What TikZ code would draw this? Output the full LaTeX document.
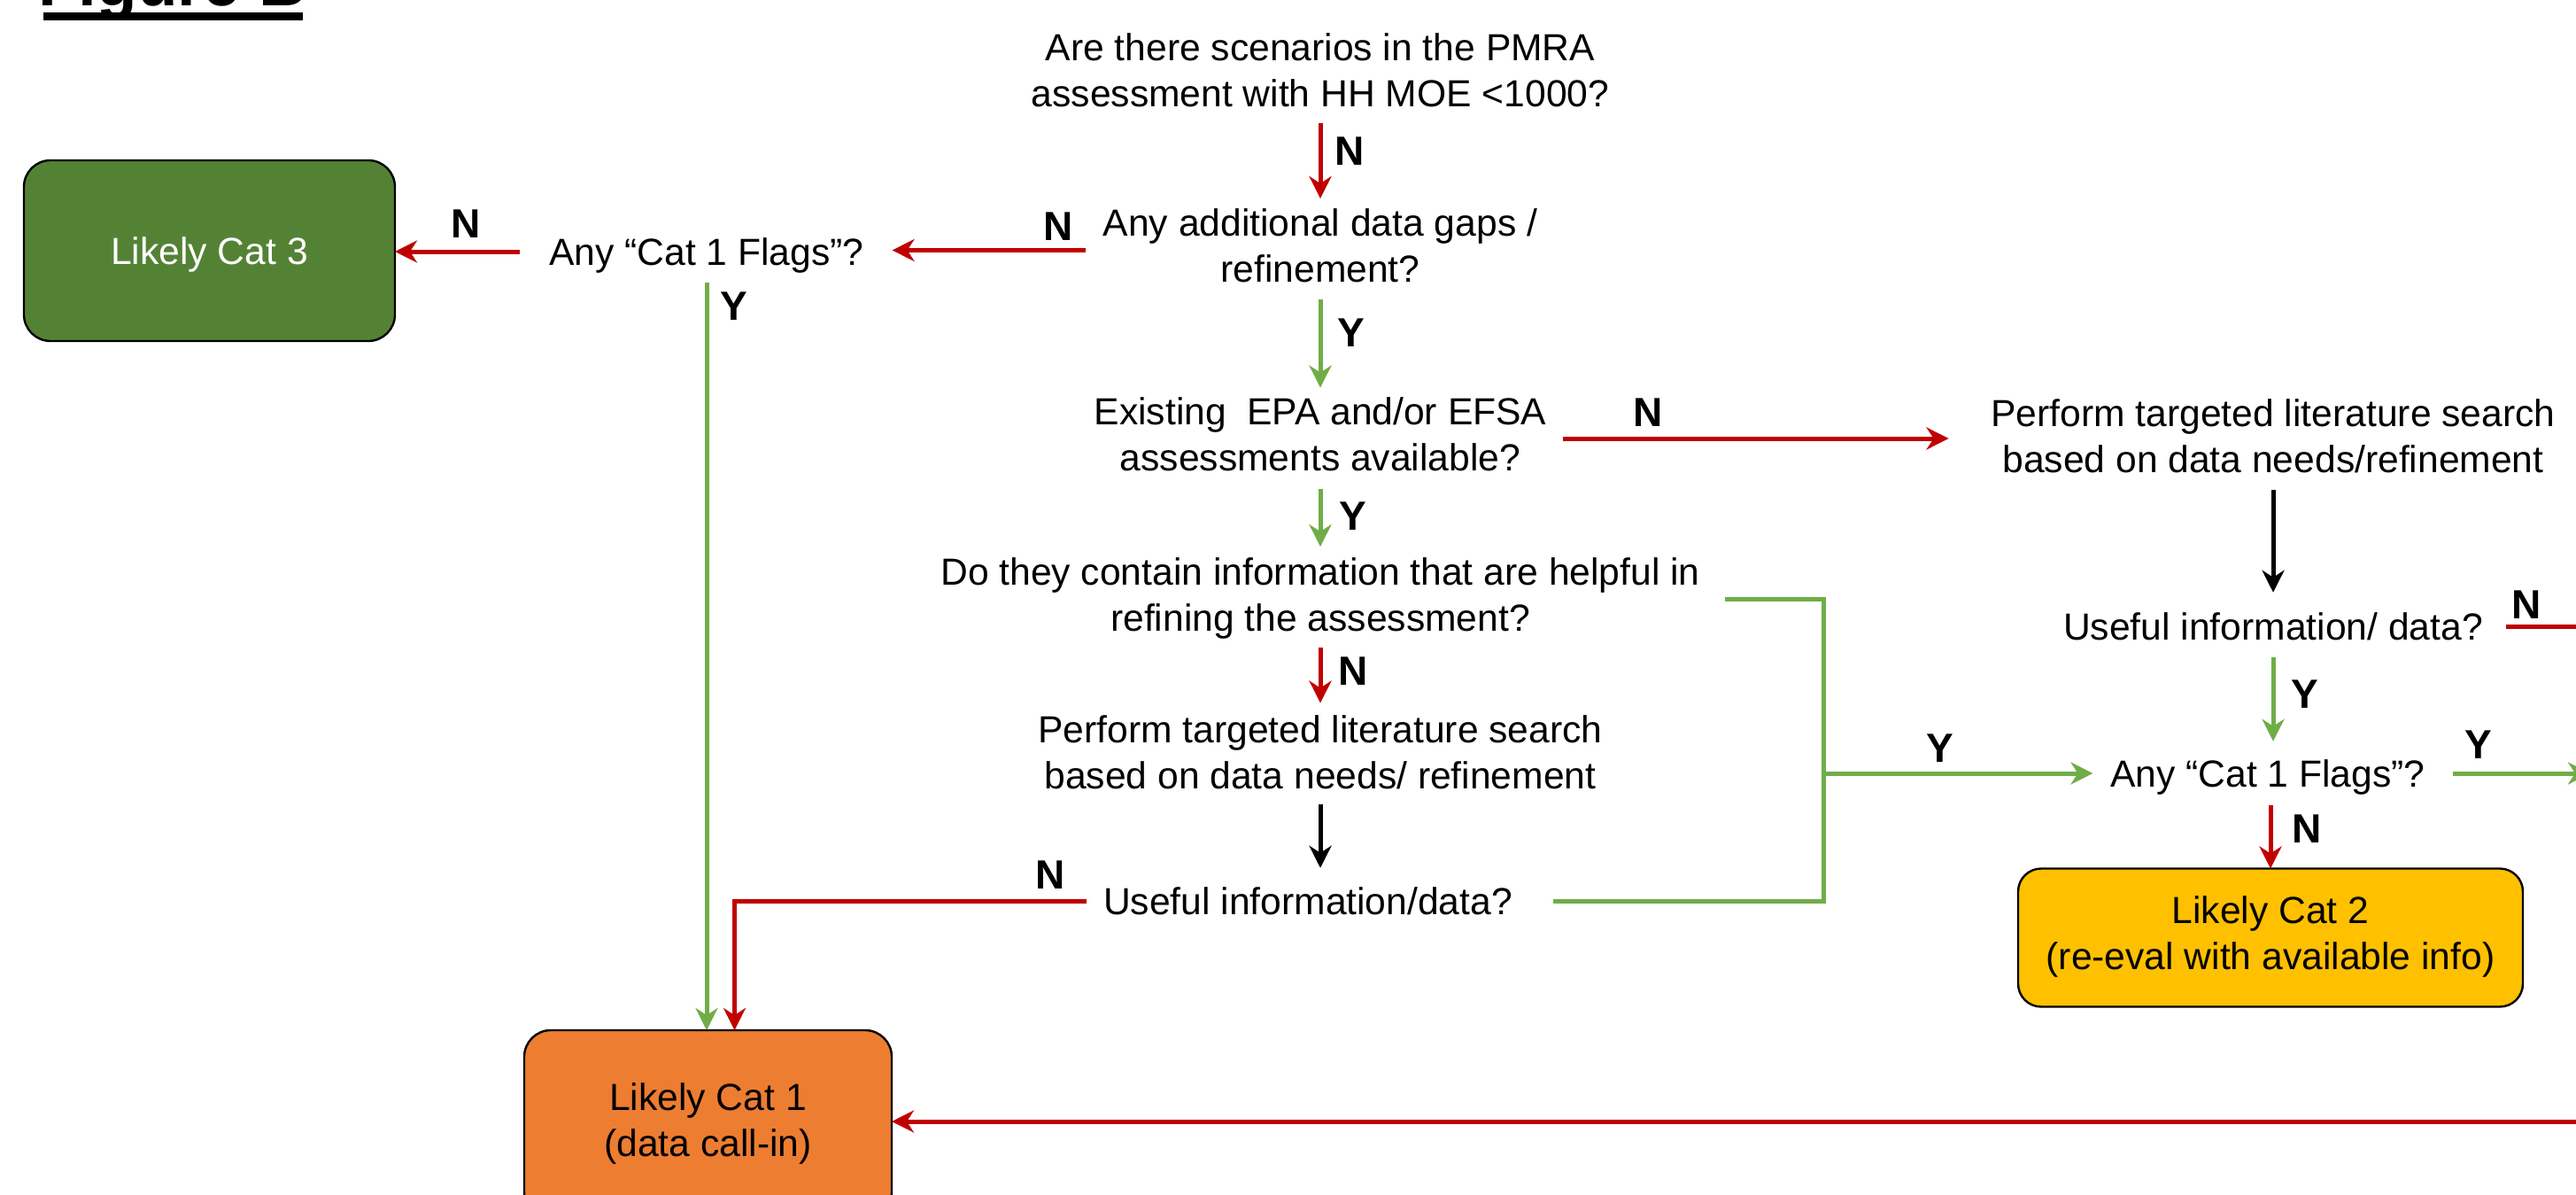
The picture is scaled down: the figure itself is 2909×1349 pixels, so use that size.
\documentclass[tikz,border=0pt]{standalone}
\usepackage{fontspec}
\setmainfont{Liberation Sans}
\usetikzlibrary{arrows.meta,calc}
\definecolor{flowred}{HTML}{C00000}
\definecolor{flowgreen}{HTML}{70AD47}
\definecolor{catgreen}{HTML}{548235}
\definecolor{catorange}{HTML}{ED7D31}
\definecolor{catyellow}{HTML}{FFC000}
% strut that puts a node's centre on the middle of its capitals
\newcommand{\qstrut}{\vrule height .95em depth .234em width 0pt}

\begin{document}
\begin{tikzpicture}[x=0.5pt,y=-0.5pt,
  question/.style={font=\fontsize{21.3pt}{26pt}\selectfont, align=center,
    inner sep=0pt, outer sep=0pt,
    execute at begin node=\qstrut, execute at end node=\qstrut},
  catbox/.style={question, draw=black, line width=1.2pt, rounded corners=15pt},
  lbl/.style={font=\fontsize{23pt}{27pt}\selectfont\bfseries, inner sep=0pt,
    text height=16.5pt, text depth=0pt},
  tip/.style={-{Stealth[length=12.5pt,width=12.5pt,inset=4pt]}},
  redline/.style={line width=2.5pt, color=flowred},
  greenline/.style={line width=2.5pt, color=flowgreen},
  redarr/.style={redline, tip},
  greenarr/.style={greenline, tip},
  blackarr/.style={line width=2.5pt, color=black, tip},
]
\useasboundingbox (0,0) rectangle (2909,1349);
\clip (0,0) rectangle (2909,1349);

% heading
\node[font=\fontsize{37.3pt}{44pt}\selectfont\bfseries, inner sep=0pt, anchor=base west]
  (title) at (43,6) {Figure B};
\fill ([shift={(5.5,8)}]title.base west) rectangle ([shift={(-4,17)}]title.base east);

% questions, main column
\node[question] (q0) at (1491,84) {Are there scenarios in the PMRA\\assessment with HH MOE <1000?};
\node[question] (q1) at (1491,282.5) {Any additional data gaps /\\refinement?};
\node[question] (q2) at (1491,495) {Existing\ \ EPA and/or EFSA\\assessments available?};
\node[question] (q3) at (1491,676.5) {Do they contain information that are helpful in\\refining the assessment?};
\node[question] (s1) at (1491,854) {Perform targeted literature search\\based on data needs/ refinement};
\node[question] (u1) at (1477,1017) {Useful information/data?};

% left column
\node[question] (flags1) at (798,284) {Any “Cat 1 Flags”?};
\node[catbox, fill=catgreen, text=white, minimum width=209.5pt, minimum height=102pt]
  (cat3) at (236.5,283) {Likely Cat 3};
\node[catbox, fill=catorange, minimum width=207.5pt, minimum height=106.5pt]
  (cat1) at (799.5,1269.5) {Likely Cat 1\\(data call-in)};

% right column
\node[question] (s2) at (2567,497.5) {Perform targeted literature search\\based on data needs/refinement};
\node[question] (u2) at (2567,707) {Useful information/ data?};
\node[question] (flags2) at (2561,873) {Any “Cat 1 Flags”?};
\node[catbox, fill=catyellow, rounded corners=13pt, minimum width=285pt, minimum height=78pt]
  (cat2) at (2564,1058.5) {Likely Cat 2\\(re-eval with available info)};

% branch points
\coordinate (jn) at (2059,873);
\coordinate (offY) at (2925,873);
\coordinate (offN) at (2960,707);
\coordinate (offC) at (2960,1266);

% main column connectors
\draw[redarr, shorten <=4.5pt, shorten >=6pt] (q0.south) -- (q1.north);
\draw[greenarr, shorten <=4.5pt, shorten >=5.5pt] (q1.south) -- (q2.north);
\draw[greenarr, shorten <=5.5pt, shorten >=6.5pt] (q2.south) -- (q3.north);
\draw[redarr, shorten <=4pt, shorten >=7pt] (q3.south) -- (s1.north);
\draw[blackarr, shorten <=4pt, shorten >=6pt] (s1.south) -- (s1.south |- u1.north);

% left connectors
\draw[redarr, shorten <=10pt, shorten >=16pt] (q1.west) -- (q1.west -| flags1.east);
\draw[redarr, shorten <=16.5pt] (flags1.west) -- (flags1.west -| cat3.east);
\draw[greenarr, shorten <=5pt] (flags1.south) -- (flags1.south |- cat1.north);
\draw[redarr] ([xshift=-9.5pt]u1.west) -| ([xshift=15pt]cat1.north);

% right connectors
\draw[redarr, shorten <=9.5pt, shorten >=24pt] (q2.east) -- (q2.east -| s2.west);
\draw[blackarr, shorten <=4.5pt, shorten >=6.5pt] (s2.south) -- (u2.north);
\draw[greenarr, shorten <=5pt, shorten >=5.5pt] (u2.south) -- (u2.south |- flags2.north);
\draw[redarr, shorten <=5.5pt] (cat2.north |- flags2.south) -- (cat2.north);
\draw[greenarr, shorten <=15.5pt] (flags2.east) -- (offY);
\draw[redline, shorten <=13pt] (u2.east) -- (offN);
\draw[redarr] (offC) -- (offC -| cat1.east);

% bracket joining both "helpful" answers
\draw[greenline] ([xshift=14pt]q3.east) -| (jn);
\draw[greenline] ([xshift=23pt]u1.east) -| (jn);
\draw[greenarr, shorten >=10pt] (jn) -- (flags2.west);

% answer labels
\node[lbl] (l1) at (526,252) {N};
\node[lbl] (l2) at (1195,255) {N};
\node[lbl] (l3) at (1524,170) {N};
\node[lbl] (l4) at (829,345) {Y};
\node[lbl] (l5) at (1526,375) {Y};
\node[lbl] (l6) at (1861,465) {N};
\node[lbl] (l7) at (1528,582) {Y};
\node[lbl] (l8) at (1528,757) {N};
\node[lbl] (l9) at (1186,987) {N};
\node[lbl] (l10) at (2191,844) {Y};
\node[lbl] (l11) at (2603,783) {Y};
\node[lbl] (l12) at (2605,935) {N};
\node[lbl] (l13) at (2799,840) {Y};
\node[lbl] (l14) at (2853,682) {N};
\end{tikzpicture}
\end{document}
